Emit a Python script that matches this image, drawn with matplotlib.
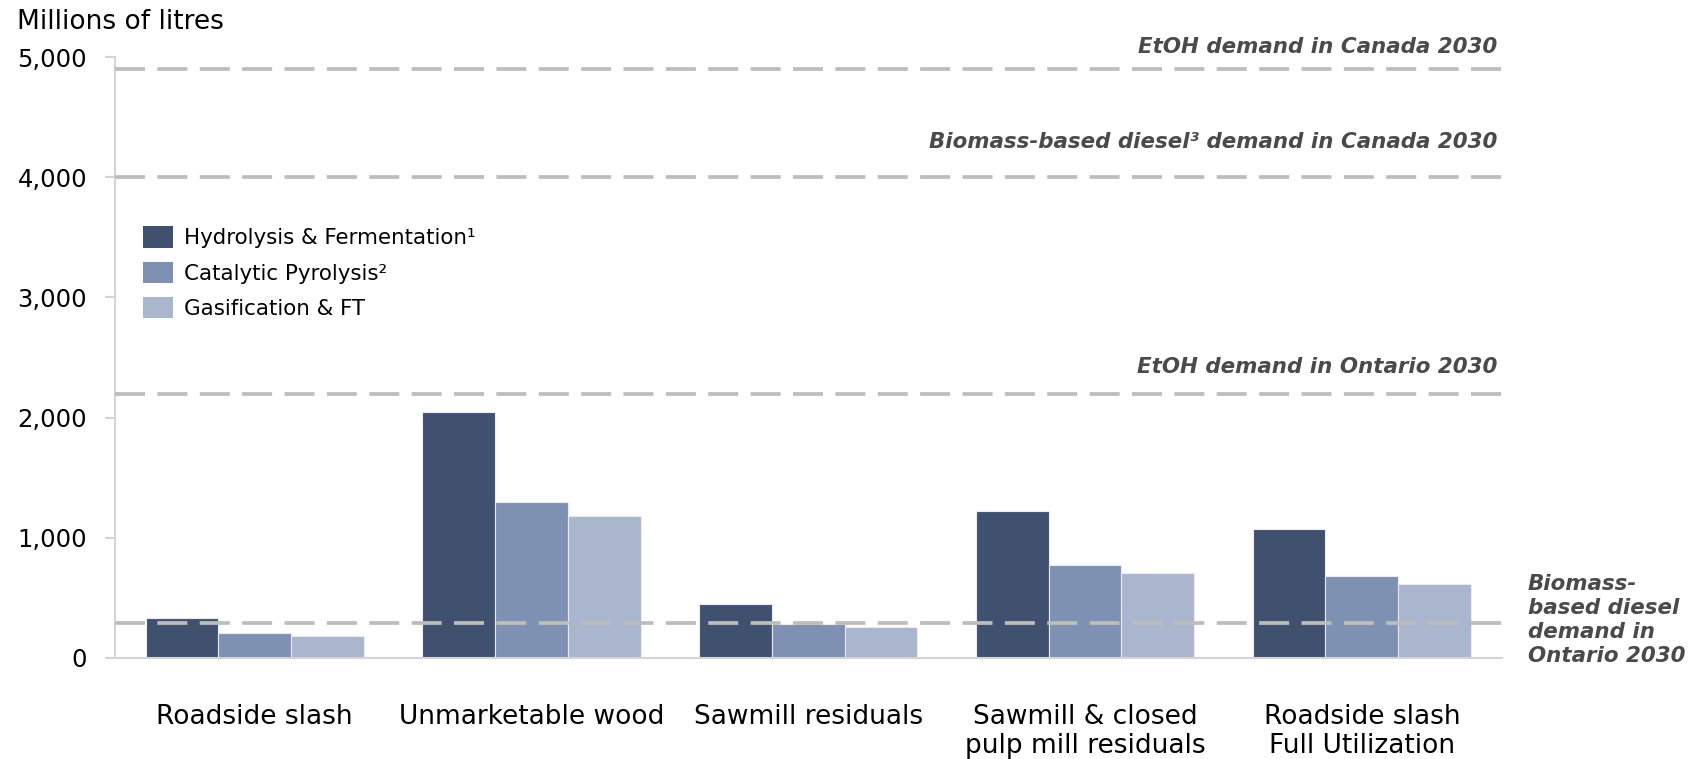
import matplotlib
matplotlib.use("Agg")
import matplotlib.pyplot as plt
import numpy as np
from matplotlib.patches import Patch
from matplotlib.ticker import FuncFormatter

# Feedstock categories and fuel yields (millions of litres)
categories = ["Roadside slash", "Unmarketable wood", "Sawmill residuals",
              "Sawmill & closed\npulp mill residuals", "Roadside slash\nFull Utilization"]
series_names = ["Hydrolysis & Fermentation\u00b9", "Catalytic Pyrolysis\u00b2", "Gasification & FT"]
hydrolysis = [333, 2050, 450, 1222, 1075]
pyrolysis = [208, 1300, 283, 772, 680]
gasification = [186, 1183, 261, 703, 619]

# Demand reference levels (millions of litres)
etoh_canada = 4900
diesel_canada = 4000
etoh_ontario = 2200
diesel_ontario = 290

y_ticks = [0, 1000, 2000, 3000, 4000, 5000]

colors = ["#405170", "#7f91b3", "#aab5ce"]
line_color = "#bdbdbd"
axis_color = "#d4d4d4"
note_color = "#4a4a4a"

plt.rcParams["font.family"] = ["DejaVu Sans"]

fig = plt.figure(figsize=(16.91, 7.59), dpi=100)
ax = fig.add_axes([0.068, 0.1331, 0.820, 0.7918])

x = np.arange(len(categories))
w = 0.263
for i, (vals, c) in enumerate(zip([hydrolysis, pyrolysis, gasification], colors)):
    ax.bar(x + (i - 1) * w, vals, width=w, color=c, edgecolor="#e9ecf3",
           linewidth=0.8, zorder=2)

# Demand lines
for lvl in [etoh_canada, diesel_canada, etoh_ontario, diesel_ontario]:
    ax.axhline(lvl, color=line_color, lw=2.7, linestyle=(0, (8, 3.3)), zorder=3)

ax.set_xlim(-0.505, 4.505)
ax.set_ylim(0, 5000)
ax.set_yticks(y_ticks)
ax.yaxis.set_major_formatter(FuncFormatter(lambda v, p: f"{int(v):,}"))
ax.set_xticks(x)
ax.set_xticklabels(categories, fontsize=19, linespacing=1.14, va="top")
ax.tick_params(axis="x", length=0, pad=33)
ax.tick_params(axis="y", length=7, width=1.5, color=axis_color, labelsize=17.5, pad=13)

for s in ["top", "right"]:
    ax.spines[s].set_visible(False)
for s in ["left", "bottom"]:
    ax.spines[s].set_color(axis_color)
    ax.spines[s].set_linewidth(1.5)

fig.text(0.010, 0.9716, "Millions of litres", fontsize=19, ha="left", va="center")

note_kw = dict(fontsize=15.4, fontweight="bold", fontstyle="italic", color=note_color)
ax.annotate("EtOH demand in Canada 2030", xy=(1.0, etoh_canada),
            xycoords=("axes fraction", "data"), xytext=(-3, 16),
            textcoords="offset points", ha="right", va="center", **note_kw)
ax.annotate("Biomass-based diesel\u00b3 demand in Canada 2030", xy=(1.0, diesel_canada),
            xycoords=("axes fraction", "data"), xytext=(-3, 25),
            textcoords="offset points", ha="right", va="center", **note_kw)
ax.annotate("EtOH demand in Ontario 2030", xy=(1.0, etoh_ontario),
            xycoords=("axes fraction", "data"), xytext=(-3, 19),
            textcoords="offset points", ha="right", va="center", **note_kw)
ax.annotate("Biomass-\nbased diesel\ndemand in\nOntario 2030", xy=(1.0, diesel_ontario),
            xycoords=("axes fraction", "data"), xytext=(19, 2),
            textcoords="offset points", ha="left", va="center",
            linespacing=1.25, **note_kw)

handles = [Patch(facecolor=c, edgecolor="none") for c in colors]
ax.legend(handles, series_names, loc="upper left", bbox_to_anchor=(0.020, 0.718),
          frameon=False, fontsize=15.4, handlelength=1.4, handleheight=1.15,
          handletextpad=0.55, labelspacing=0.63, borderpad=0, borderaxespad=0)

fig.savefig("out.png", dpi=100)
